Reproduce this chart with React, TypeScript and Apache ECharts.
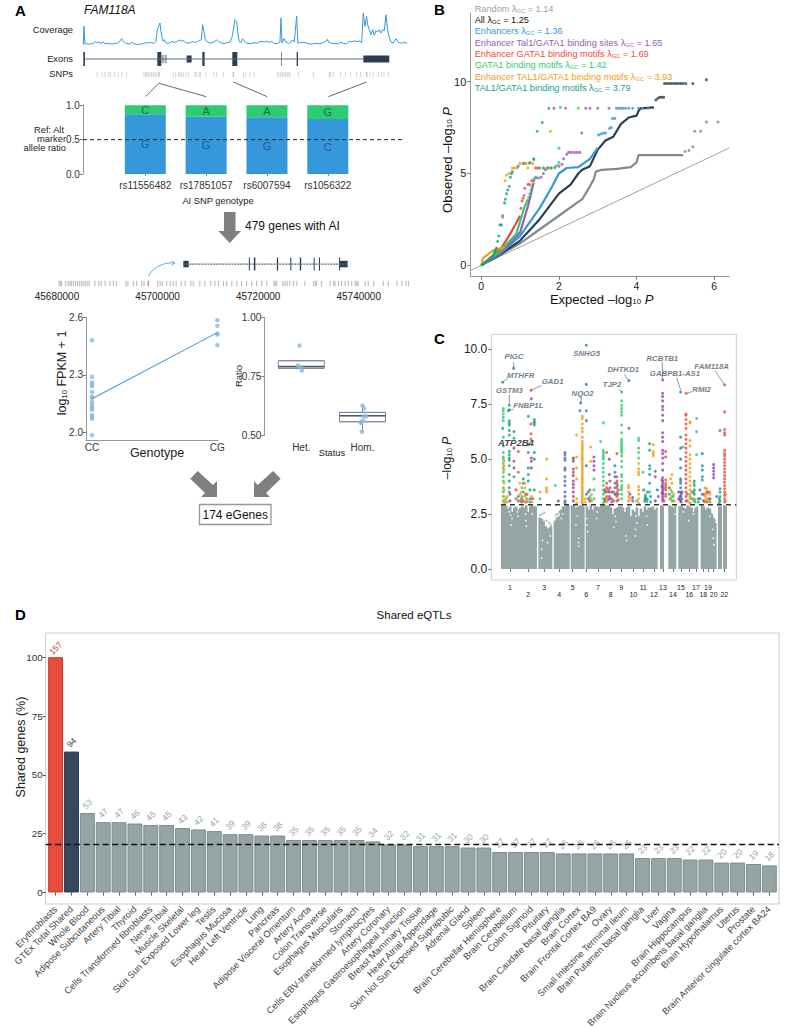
import React, { useEffect, useRef } from "react";
import * as echarts from "echarts";

const FONT = "'Liberation Sans', Arial, sans-serif";

// ---- Panel A data ----
const coverage = [[10,0],[12,55],[15,3],[25,2],[40,3],[46,10],[50,5],[56,9],[60,4],[70,7],[76,3],[85,4],[95,2],[110,4],[118,8],[125,18],[130,10],[136,5],[145,2],[150,3],[156,8],[160,3],[170,1],[185,2],[198,6],[205,5],[212,7],[222,4],[228,10],[232,45],[236,55],[240,65],[243,40],[247,18],[250,10],[253,15],[258,6],[264,4],[270,6],[276,10],[283,7],[290,9],[298,14],[305,11],[312,12],[318,6],[325,4],[335,8],[340,10],[346,6],[352,9],[358,12],[364,15],[368,60],[372,40],[376,15],[381,9],[388,6],[395,5],[403,9],[410,14],[416,9],[424,5],[432,3],[440,6],[450,8],[457,25],[461,50],[465,75],[470,70],[473,40],[477,12],[482,5],[488,18],[493,10],[500,5],[512,3],[522,6],[530,4],[538,9],[546,10],[553,8],[560,11],[568,7],[576,9],[583,4],[592,3],[600,8],[603,80],[606,5],[612,18],[618,8],[625,4],[632,7],[637,14],[643,8],[650,85],[654,5],[662,6],[672,7],[684,3],[695,2],[708,4],[718,3],[730,6],[738,10],[742,16],[747,7],[755,4],[765,3],[775,3],[783,7],[790,4],[800,3],[808,10],[815,8],[822,12],[830,9],[838,11],[845,6],[850,95],[855,55],[860,85],[863,60],[868,45],[873,30],[878,45],[883,28],[888,42],[893,38],[898,45],[903,35],[908,45],[913,42],[918,90],[922,50],[927,25],[933,8],[940,5],[948,18],[955,8],[965,4],[972,8],[982,4]];
const exons1 = [[10,15,1],[232,244,1],[245,248,.6],[250,253,.6],[256,260,.6],[320,335,.5],[367,374,1],[457,472,1],[603,605,1],[650,654,1],[850,928,.5]];
const exons1Shade = [0,0,1,1,1,0,0,0,1,0,0];
const snps1 = [52,66,75,85,92,103,115,126,140,192,197,200,205,210,215,220,225,230,280,287,295,300,305,310,318,325,345,350,358,362,378,402,410,430,490,497,510,523,592,597,602,607,612,617,622,627,630,655,700,748,752,760,782,796,812,830,842,870,880,895,905,912,925];
const snps1Red = [237,460,860];
const alleleNames = ["rs11556482","rs17851057","rs6007594","rs1056322"];
const refRatio = [0.87,0.835,0.825,0.8];
const altRatio = [0.13,0.165,0.175,0.2];
const refAllele = ["G","G","G","C"];
const altAllele = ["C","A","A","G"];
const exons2 = [[45705130,45706190,.5],[45718150,45718350,1],[45719150,45719450,1],[45723720,45723980,1],[45726400,45726600,1],[45728280,45728560,1],[45731040,45731200,1],[45732100,45732260,1],[45736100,45736200,1],[45736200,45737800,.5]];
const geneSpan2 = [45705130,45737800];
const snps2Kb = [.4,.66,.9,1.7,2.2,2.6,2.85,3.25,3.65,4.05,4.45,4.85,5.2,5.6,6,6.4,7.55,8.3,8.8,9.55,10.55,11.2,11.8,13.7,14.1,15.2,15.85,16.85,17.3,20,20.5,20.95,21.8,22.5,23.1,23.7,24.7,25.5,26.6,27.1,28.4,29.4,30.55,31.4,32.1,33.1,33.75,34.75,35.75,36.7,37.7,38.7,39.7,40.7,41.7,43.15,43.4,43.7,44.9,45.35,45.8,46.3,47,47.7,49.3,51,51.4,51.6,52.6,54.3,55,55.3,56,56.6,57.3,57.9,58.6,59.3,59.6,59.9,61.3,61.9,63,64.9,65.9,67.6,68.6,69.4,69.9];
const snps2RedKb = [18.15];
const genomeTicks = [45680000,45700000,45720000,45740000];
const ccExpr = [2.48,2.29,2.26,2.25,2.24,2.21,2.186,2.18,2.16,2.15,2.134,2.125,2.117,2.09,2.08,2.07,1.985];
const cgExpr = [2.585,2.555,2.515,2.51,2.455];
const exprFit = [[0,2.175],[1,2.52]];
const statusNames = ["Het.","Hom."];
const ratioBoxes = [[0.784,0.784,0.791,0.816,0.816],[0.515,0.5575,0.583,0.597,0.626]];
const ratioPoints = [[-0.03,0.88],[-0.05,0.796],[-0.01,0.787],[0.01,0.774],[1.0,0.626],[1.03,0.614],[1.02,0.581],[1.06,0.581],[0.98,0.5575],[0.97,0.553],[1.01,0.562],[0.99,0.515]];

// ---- Panel B data ----
const qqDiagonal = [[-0.283,-0.283],[6.39,6.39]];
const qqRandom = [[0,0],[.5,.6],[1,1.2],[1.5,1.95],[2,2.7],[2.4,3.3],[2.6,3.6],[2.8,4.3],[2.9,4.7],[2.95,5.1],[3.1,5.2],[3.5,5.25],[3.85,5.35],[4,5.6],[4.05,6],[5.2,6]];
const qqRandomDots = [[5.25,6.2],[5.35,6.25],[5.45,6.45],[5.5,7.3],[5.65,7.3],[5.8,7.8],[6.1,7.8]];
const qqAll = [[0,0],[.5,.6],[1,1.35],[1.5,2.5],[2,3.9],[2.3,4.4],[2.5,5],[2.6,5.2],[2.8,5.4],[3,6.3],[3.2,6.8],[3.4,7],[3.6,7.7],[3.8,8.05],[4,8.15],[4.05,8.4],[4.1,8.55],[4.45,8.6]];
const qqAllDots = [[4.5,9],[4.55,9.1],[4.6,9.15],[4.65,9.15],[4.7,9.15],[4.72,9.9],[4.78,9.9],[4.84,9.9],[4.9,9.9],[4.96,9.9],[5.02,9.9],[5.08,9.9],[5.14,9.9],[5.2,9.9],[5.27,9.9],[5.45,9.9],[5.8,10.1]];
const qqEnh = [[0,0],[.5,.65],[1,1.6],[1.5,3.1],[1.8,4.2],[2,5],[2.2,5.3],[2.5,5.35],[2.8,5.8],[3,6.4]];
const qqEnhDots = [[3.02,7.1],[3.08,7.15],[3.14,7.2],[3.2,7.2],[3.3,7.45],[3.35,7.5],[3.38,8],[3.44,8],[3.48,8.55],[3.54,8.55],[3.6,8.55],[3.66,8.55],[3.72,8.55],[3.8,8.55],[3.9,8.55],[4.05,8.55],[4.15,8.55],[4.3,8.55]];
const qqTal = [[0,0],[.5,.7],[1,1.8],[1.2,3.2],[1.35,4.5]];
const qqTalDots = [[1.4,4.75],[1.47,4.75],[1.54,4.8],[1.6,5],[1.65,5.2],[1.72,5.3],[1.8,5.3],[1.9,5.35],[2,5.4],[2.08,5.5],[2.12,5.8],[2.2,6.05],[2.25,6.15],[2.32,6.15],[2.4,6.15],[2.47,6.15],[2.54,6.15],[2.59,7.2],[2.69,8.55],[2.8,8.55],[3,8.55],[3.29,8.55]];
const qqGataEnh = [[0,0],[.5,.9],[.7,1.55],[.9,2.3],[1,2.7]];
const qqGataEnhDots = [[1.02,3.1],[1.05,3.5],[1.08,3.65],[1.1,3.8],[1.12,4.2],[1.2,4.4],[1.25,4.4],[1.3,4.6],[1.35,4.6],[1.4,5.3],[1.45,5.3],[1.5,5.3],[1.6,5.3],[1.7,5.3],[1.8,5.3],[1.87,8.55],[2.17,8.55]];
const qqGata = [[0,0],[.5,.8],[.9,1.7],[1.1,3.1],[1.2,3.6]];
const qqGataDots = [[1.22,3.7],[1.25,3.9],[1.28,4.1],[1.3,4.3],[1.35,4.7],[1.4,4.8],[1.5,5.3],[1.6,5.3],[1.7,5.3],[1.8,5.3],[1.9,5.3],[1.95,5.45],[2,5.6],[2,6.38],[2.04,8.6],[2.5,8.55],[1.35,5.75]];
const qqMotifEnh = [[0,0],[.05,.4],[.3,.8],[.6,1]];
const qqMotifEnhDots = [[.55,2.6],[.62,4.6],[.65,4.9],[.72,5],[.8,5.3],[.86,5.3],[.92,5.3],[1,5.55],[1.08,5.55],[1.16,5.55],[1.24,5.55],[1.32,5.55],[1.2,5.3],[1.78,7.3]];
const qqMotif = [[0,0],[.3,.5],[.4,1]];
const qqMotifDots = [[.42,1.3],[.45,1.6],[.48,2.2],[.52,2.2],[.55,2.7],[.6,3.4],[.62,3.6],[.65,3.9],[.68,4.1],[.72,4.3],[.75,4.8],[.78,5],[.8,5.1],[.95,5.4],[1.1,5.55],[1.25,5.6],[1.35,5.8],[1.44,7.3],[1.57,7.78],[1.74,8.55]];
const qqLegend = [
  ["Random ", "1.14", "#95a5a6"],["All ", "1.25", "#111111"],["Enhancers ", "1.36", "#3498db"],
  ["Enhancer Tal1/GATA1 binding sites ", "1.65", "#9b59b6"],["Enhancer GATA1 binding motifs ", "1.69", "#e74c3c"],
  ["GATA1 binding motifs ", "1.42", "#2ecc71"],["Enhancer TAL1/GATA1 binding motifs ", "3.93", "#f39c12"],
  ["TAL1/GATA1 binding motifs ", "3.79", "#16a085"],
];

// ---- Panel C data ----
const graySegments = [
  [36,[2.9,2.9,2.88,2.75,2.85,2.6,2.8,2.85,2.7,2.8,2.85,2.8,2.9,2.6,2.85,2.9,2.85,2.85]],
  [148,[2.35,2.3,2.2,1.95,1.85,1.9,1.95]],
  [194,[2.2,2.35,2.4,2.7,2.85,2.85,2.9,2.9]],
  [245,[2.9,2.9,2.8,2.85,2.9,2.9,2.85]],
  [290,[2.85,2.7,2.9,2.7,2.85,2.85,2.8,2.9,2.9,2.9,2.9,2.9,2.8,2.5,2.75,2.8,2.85,2.85,2.8,2.6,2.8,2.85,2.4,2.7,2.6,2.8,2.4,2.75,2.6,2.85,2.7,2.8,2.8,2.85,2.7,2.8]],
  [513,[2.9,2.85]],
  [538,[2.9,2.85,2.8,2.9]],
  [568,[2.85,2.9,2.8,2.75,2.9,2.85,2.8,2.6,2.8,2.85]],
  [635,[2.9,2.85,2.7,2.8,2.75,2.5,2.3,2.1]],
  [687,[2.85,2.85]],
  [702,[2.9,2.85]],
];
const grayFringe = [[150,2.45],[156,2.5],[163,2.56],[170,2.2],[178,2.1],[183,2],[197,2.45],[203,2.5],[208,2.6],[660,2.6],[665,2.5],[670,2.3],[675,2.2]];
const grayHoles = [[58,2.6],[62,2.45],[66,2.3],[63,2],[82,2.6],[84,2.4],[107,2.5],[108,2.2],[109,1.95],[127,2.5],[214,2.3],[218,2.5],[266,1.4],[266,1.2],[266,1.05],[262,2.4],[258,2],[290,2.3],[291,2],[293,1.7],[322,2.6],[320,2.3],[376,2.4],[378,2.15],[372,1.9],[408,1.5],[410,1.3],[438,2.4],[440,2.1],[437,1.8],[436,1.5],[470,2.4],[472,2],[555,2.5],[580,2.6],[596,2.2],[610,2.5],[660,2.4],[668,1.8],[670,1.4],[672,1.1],[155,.9],[158,1.3],[155,.5],[173,1.2],[180,1.5]];
const chrTicks = [60,115,163,208,248,289,324,362,394,430,460,492,519,549,573,598,618,640,654,671,685,703];
const chrNames = ["1","2","3","4","5","6","7","8","9","10","11","12","13","14","15","16","17","18","19","20","21","22"];
const hitPalette = { green:"#2ecc71", teal:"#16a085", blue:"#2980b9", indigo:"#4a69bd", purple:"#8e44ad", orange:"#f39c12", red:"#e74c3c", plum:"#a8417f" };
const hitsGreen = [[40,[7.3,7.2,7.05,6.9,6.75,6,5.6,5.3,5.1,5,4.8,4.6,4.4,4.2,4,3.7,3.5,3.3,3.1]],[196,[3.8]],[250,[5]],[332,[5.8]],[340,[6.65,5.4,5.3,5.2,5.1,5,4.8,4.6,4.4,4.2,4,3.8,3.6,3.4,3.2,3]],[395,[8.05,7.65,7.45,7.3,7.15,7,6.55,6.2,5.9,5.8,5.7,5.6,5.5,5.4,5.3,5.15,4.9,4.65,4.3,4.2,4,3.8,3.7,3.6,3.4,3.2]],[446,[5.95,5.85,5.5,5.3,5.05]],[459,[4.4]],[479,[3.5]],[546,[3.5,3.3,3.1]],[579,[5.55]],[620,[6.85,6.25,5.2]],[612,[3.9,3.5,3.1]],[96,[3.7,3.3]],[312,[4.1,3.6,3.2]],[48,[3.2,3.05]],[110,[3.4,3.2]],[150,[3.2]],[300,[3.3,3.1]],[345,[3.1]],[385,[3.4]],[440,[3.1]],[470,[3.2,3.05]],[550,[3.3,3.1]],[600,[3,3.3]],[615,[3.15,3.05]],[640,[3.1]],[660,[3.05]]];
const hitsTeal = [[38,[8.5,6.4]],[55,[7.2]],[58,[7.45,7.25,6.74,6.63,6.55,6.3,6.1,5.35,5.2,5.05,4.95,4.7,4.3,4,3.7,3.5]],[72,[6.25,5.95,4.2]],[100,[4.1,3.9,3.5,3.1]],[115,[6.95,5.65,5.3,4.6,4.3,4]],[133,[6.8,6.7,6.65,6.55,5.3,5,3.6]],[466,[3.35,3.2]],[479,[5.7,5.4,4.7,4.55,4.3,3.9]],[538,[3.7,3.4]],[613,[4,3.8,3.6,3.4]],[690,[6.3,3.65,3.5,3.3,3.1]],[660,[3.2]],[85,[3.3,3.1]],[120,[3.6,3.2,3.05]],[300,[3.6,3.1]],[345,[3.5,3.2]],[464,[3.1]],[472,[3.5,3.15]],[482,[3.3,3.05]],[540,[3.2]],[606,[3.5,3.2]],[625,[3.2,3.05]],[688,[3,3.2]]];
const hitsBlue = [[71,[9.13]],[272,[7.55]],[270,[7.2]],[289,[10.18,8.4,7.2,6.75,4.7,3.4]],[417,[8.57,6.4]],[461,[3.6]],[502,[3.6]],[572,[8.05,6,5.5,5,4.6,4.1,4,3.9,3.7,3.5,3.3,3.1]],[637,[5.25,4.7,4.5,4.2,4.05,3.4]],[375,[4.7,4.4,4.2,3.9,3.7,3.4]],[370,[3.5,3.1]],[382,[3.8,3.4]],[466,[3.25]],[576,[3.5,3.2]],[630,[3.6,3.2]]];
const hitsIndigo = [[225,[5.3,5.2,5.05,4.95,4.6,4.5,4.2,4,3.8,3.5,3.3,3.1,3]],[295,[3.5,3.2]],[680,[3.3]]];
const hitsPurple = [[72,[5.5,4.9,4.6]],[124,[7.75,5.05,4.9,4.6]],[312,[5.1,4.9,4.7,4.5]],[358,[5,4.3,3.5,3.3]],[428,[3.25,3.1]],[496,[4.45,4.2,3.1]],[518,[8.6,8,7.85,7.65,7.4,7.25,7,6.75,6.2,6,5.8,5.4,5.25,5.05,4.8,4.5,4.15,4,3.9,3.8,3.7,3.6,3.5,3.4,3.3,3.2,3.1]],[516,[4.05,3.75,3.45]],[671,[4.75,4.6,4.45,4.3,4.15]],[570,[3.3,3.15]],[60,[3.4,3.1]],[128,[3.2]],[355,[3.6,3.15]],[420,[3.4]],[505,[3.3]],[566,[3.5,3.2]],[574,[3.4,3.05]]];
const hitsOrange = [[42,[4.9,4.7,4.5,3.9,3.6,3.3,3.1,3]],[105,[3.9,3.7,3.3]],[150,[3.5]],[170,[5,4.1,3.7,3.6,3.5]],[260,[6.1,5.1,4.6,4.1,3.2,3]],[277,[6.95,6.85,6.6,6.4,6.25,6,5.8,5.7,5.6,5.5,5.4,5.3,5.2,5.1,5,4.9,4.8,4.7,4.6,4.5,4.4,4.3,4.2,4.1,4,3.9,3.8,3.7,3.6,3.5,3.4,3.3,3.2,3.1,3]],[302,[5.55,4.9,3.2]],[416,[3.8,3.7,3.5,3.3,3.1]],[446,[4.8,4.55,4.4,4.3,3.75,3.6,3.4,3.2,3]],[490,[5.65,5.35,5.25,5.15]],[546,[4.3,3.9]],[600,[6.7,6.65,5.85,5.6,5.2,5,4.8,4.6,4.4,4.2,4,3.8,3.6,3.4,3.2,3]],[650,[3.65,3.5,3.4,3.2,3.1]],[94,[3.5,3.1]],[707,[3.4,3.1]],[52,[3.3,3.05]],[90,[3.9,3.4,3.1]],[112,[3.4,3.1]],[125,[3.3,3.05]],[286,[3.2,3.05]],[305,[3.4,3.1]],[350,[3.2,3.05]],[420,[3.2]],[542,[4.1,3.6,3.2]],[552,[3.4,3.1]],[612,[3.2]],[645,[3.7,3.3,3.05]],[660,[3.4,3.15]]];
const hitsRed = [[85,[5.35,4.4]],[123,[8.13,6.6,6.15,5.9]],[350,[5.3,3.9,3.7,3.5,3.3]],[381,[5.25,4.2,4,3.9,3.7,3.5,3.3,3.1]],[527,[5.35,5.1,4.05,3.9,3.8,3.7,3.6,3.4,3.3]],[588,[8,7.05,7,6.8,6.6,6.4,6.1,5.9,5.7,5.5,5.3,5.1,4.9,4.7,4.5,4.3,4.1,3.9,3.7,3.5,3.3,3.1]],[658,[3.5,3.2]],[704,[8.37,7.15,6.35,6.2,6.1,5.4,5.25,5.15,5,4.85,4.7,4.55,4.4,4.25,4.1,3.95,3.8,3.65,3.5,3.35,3.2,3.05]],[78,[3.6,3.2]],[95,[3.2,3.05]],[108,[3.4,3.05]],[345,[3.6,3.1]],[365,[3.5,3.2,3.05]],[376,[3.4]],[385,[3.6,3.15]],[522,[3.1]],[592,[3.4,3.1]],[642,[3.4,3.1]],[652,[3.5,3.05]]];
const hitsPlum = [[205,[3.1]],[250,[5.05,4.9,4.55,4.4,4.25,4,3.85,3.7,3.5,3.3,3.1]],[360,[4,3.7,3.2]]];
const hitGroups = [["green",hitsGreen],["teal",hitsTeal],["blue",hitsBlue],["indigo",hitsIndigo],["purple",hitsPurple],["orange",hitsOrange],["red",hitsRed],["plum",hitsPlum]];
const eqtlThreshold = 2.92;
const geneLabels = [["PIGC",72,9.65],["MTHFR",92,8.82],["GAD1",188,8.53],["GSTM3",58,8.12],["FNBP1L",115,7.44],["SNHG5",290,9.82],["NQO2",278,7.97],["TJP2",366,8.39],["DHTKD1",400,9.06],["RCBTB1",517,9.58],["GABPB1-AS1",555,8.89],["RMI2",635,8.16],["FAM118A",665,9.21]];
const geneLeaders = [[71,9.42,71,9.13],[55,8.68,38,8.5],[155,8.35,123,8.13],[58,7.92,58,7.45],[70,7.27,55,7.2],[275,7.78,272,7.55],[385,8.2,397,8.04],[403,8.86,417,8.57],[517,9.4,517,8.6],[560,8.72,572,8.14],[605,8.07,590,7.98],[675,9.03,704,8.37]];
const mainHit = ["ATP2B4",78,5.75];

// ---- Panel D data ----
const tissues = ["Erythroblasts","GTEx Total Shared","Whole Blood","Adipose Subcutaneous","Artery Tibial","Thyroid","Cells Transformed fibroblasts","Nerve Tibial","Muscle Skeletal","Skin Sun Exposed Lower leg","Testis","Esophagus Mucosa","Heart Left Ventricle","Lung","Pancreas","Adipose Visceral Omentum","Artery Aorta","Colon Transverse","Esophagus Muscularis","Stomach","Cells EBV-transformed lymphocytes","Artery Coronary","Esophagus Gastroesophageal Junction","Breast Mammary Tissue","Heart Atrial Appendage","Skin Not Sun Exposed Suprapubic","Adrenal Gland","Spleen","Brain Cerebellar Hemisphere","Brain Cerebellum","Colon Sigmoid","Pituitary","Brain Caudate basal ganglia","Brain Cortex","Brain Frontal Cortex BA9","Ovary","Small Intestine Terminal Ileum","Brain Putamen basal ganglia","Liver","Vagina","Brain Hippocampus","Brain Nucleus accumbens basal ganglia","Brain Hypothalamus","Uterus","Prostate","Brain Anterior cingulate cortex BA24"];
const sharedCounts = [157,94,53,47,47,46,45,45,43,42,41,39,39,38,38,35,35,35,35,35,34,32,32,31,31,31,30,30,27,27,27,27,26,26,26,26,26,23,23,23,22,22,20,20,19,18];
const sharedPct = [100,59.9,33.8,29.9,29.9,29.3,28.7,28.7,27.4,26.8,26.1,24.8,24.8,24.2,24.2,22.3,22.3,22.3,22.3,22.3,21.7,20.4,20.4,19.7,19.7,19.7,19.1,19.1,17.2,17.2,17.2,17.2,16.6,16.6,16.6,16.6,16.6,14.6,14.6,14.6,14,14,12.7,12.7,12.1,11.5];
const sharedThreshold = 20.5;

const BLUE = "#3498db";
const DARK = "#2c3e50";

function buildOption() {
  const grid: any[] = [], xAxis: any[] = [], yAxis: any[] = [], series: any[] = [];
  const panel = (g: any, x: any, y: any) => {
    const i = grid.length;
    grid.push(g);
    xAxis.push({ gridIndex: i, ...x });
    yAxis.push({ gridIndex: i, ...y });
    return i;
  };
  const hiddenVal = (min: number, max: number) => ({ type: "value", show: false, min, max, splitLine: { show: false } });
  const axisGray = { lineStyle: { color: "#999", width: 1 } };
  const tickGray = { length: 3, lineStyle: { color: "#777", width: 1 } };

  const rectItem = (colors: (i: number) => string) => (params: any, api: any) => {
    const a = api.coord([api.value(0), api.value(2)]);
    const b = api.coord([api.value(1), api.value(3)]);
    return { type: "rect", shape: { x: a[0], y: b[1], width: Math.max(b[0] - a[0], 1), height: a[1] - b[1] }, style: { fill: colors(params.dataIndex) } };
  };

  // ---- A: coverage
  const pCov = panel({ left: 83.3, top: 11.3, width: 324, height: 33.4 }, hiddenVal(10, 982), hiddenVal(0, 100));
  series.push({ type: "line", xAxisIndex: pCov, yAxisIndex: pCov, data: coverage, symbol: "none", lineStyle: { color: BLUE, width: 1 } });

  // ---- A: exons
  const pEx = panel({ left: 83.3, top: 52, width: 324, height: 14 }, hiddenVal(10, 982), hiddenVal(0, 1));
  series.push({ type: "line", xAxisIndex: pEx, yAxisIndex: pEx, data: [[12, .5], [850, .5]], symbol: "none", lineStyle: { color: "#5d6d7e", width: 1 } });
  series.push({
    type: "custom", xAxisIndex: pEx, yAxisIndex: pEx, encode: { x: [0, 1], y: [2, 3] },
    data: exons1.map(([s, e, h]) => [s, e, .5 - h / 2, .5 + h / 2]),
    renderItem: rectItem((i) => (exons1Shade[i] ? "#7f8c8d" : DARK)),
  });

  // ---- A: SNP row 1
  const pSnp = panel({ left: 83.3, top: 72, width: 324, height: 5 }, hiddenVal(10, 982), hiddenVal(0, 1));
  series.push({ type: "scatter", xAxisIndex: pSnp, yAxisIndex: pSnp, data: snps1.map((x) => [x, .5]), symbol: "rect", symbolSize: [1, 5], itemStyle: { color: "#c4c9cc" } });
  series.push({ type: "scatter", xAxisIndex: pSnp, yAxisIndex: pSnp, data: snps1Red.map((x) => [x, .5]), symbol: "rect", symbolSize: [1.2, 5], itemStyle: { color: "#e58a80" } });

  // ---- A: allele ratio bars
  const pBar = panel(
    { left: 114.9, top: 105.3, width: 243.3, height: 68.7 },
    { type: "category", data: alleleNames, axisLine: { show: false }, axisTick: { show: true, alignWithLabel: true, length: 2, lineStyle: { color: "#888" } }, axisLabel: { interval: 0, fontSize: 10, color: "#333", margin: 6, fontFamily: FONT } },
    { type: "value", min: 0, max: 1, interval: .5, offset: 32, splitLine: { show: false }, axisLine: { show: true, ...axisGray }, axisTick: { show: true, ...tickGray }, axisLabel: { fontSize: 10, color: "#333", margin: 3, fontFamily: FONT, formatter: (v: number) => v.toFixed(1) } },
  );
  series.push({ type: "bar", xAxisIndex: pBar, yAxisIndex: pBar, stack: "ai", barWidth: 41, data: refRatio, itemStyle: { color: BLUE }, label: { show: true, position: "inside", fontSize: 11, color: "#2a5a85", fontFamily: FONT, formatter: (p: any) => refAllele[p.dataIndex] } });
  series.push({ type: "bar", xAxisIndex: pBar, yAxisIndex: pBar, stack: "ai", barWidth: 41, data: altRatio, itemStyle: { color: "#2ecc71" }, label: { show: true, position: "inside", fontSize: 11, color: "#1e6a55", fontFamily: FONT, formatter: (p: any) => altAllele[p.dataIndex] } });
  const pDash = panel({ left: 83, top: 105.3, width: 322, height: 68.7 }, hiddenVal(0, 1), hiddenVal(0, 1));
  series.push({ type: "line", xAxisIndex: pDash, yAxisIndex: pDash, data: [[0, .5], [1, .5]], symbol: "none", z: 5, lineStyle: { color: "#222", width: 1, type: [4, 3] } });

  // ---- A: second gene model with SNP row
  const pGene = panel(
    { left: 57, top: 256, width: 352, height: 31 },
    { type: "value", min: 45680000, max: 45750000, splitLine: { show: false }, axisLine: { show: false }, axisTick: { show: false }, axisLabel: { customValues: genomeTicks, fontSize: 10, color: "#222", margin: 4, fontFamily: FONT, showMinLabel: true, showMaxLabel: true, formatter: (v: number) => String(v) } },
    hiddenVal(0, 1),
  );
  series.push({ type: "line", xAxisIndex: pGene, yAxisIndex: pGene, data: geneSpan2.map((x) => [x, .74]), symbol: "none", lineStyle: { color: "#566573", width: 1.2, type: [2, 1] } });
  series.push({
    type: "custom", xAxisIndex: pGene, yAxisIndex: pGene, encode: { x: [0, 1], y: [2, 3] },
    data: exons2.map(([s, e, h]) => [s, e, .74 - h * .21, .74 + h * .21]),
    renderItem: rectItem(() => DARK),
  });
  series.push({ type: "scatter", xAxisIndex: pGene, yAxisIndex: pGene, data: snps2Kb.map((k) => [45680000 + k * 1000, .11]), symbol: "rect", symbolSize: [1.2, 5.5], itemStyle: { color: "#aab1b8" } });
  series.push({ type: "scatter", xAxisIndex: pGene, yAxisIndex: pGene, data: snps2RedKb.map((k) => [45680000 + k * 1000, .11]), symbol: "rect", symbolSize: [1.4, 5.5], itemStyle: { color: "#c0605a" } });

  // ---- A: expression scatter
  const pExpr = panel(
    { left: 86, top: 317.3, width: 132, height: 123.4 },
    { type: "value", min: -0.048, max: 1.005, splitLine: { show: false }, axisLine: { show: true, onZero: false, ...axisGray }, axisTick: { show: false }, axisLabel: { customValues: [0, 1], fontSize: 10, color: "#333", margin: 2, fontFamily: FONT, formatter: (v: number) => (v < .5 ? "CC" : "CG"), showMinLabel: true, showMaxLabel: true } },
    { type: "value", min: 1.956, max: 2.6, splitLine: { show: false }, axisLine: { show: true, onZero: false, ...axisGray }, axisTick: { show: true, customValues: [2, 2.3, 2.6], length: 3, lineStyle: { color: "#777" } }, axisLabel: { customValues: [2, 2.3, 2.6], fontSize: 10, color: "#333", margin: 3, fontFamily: FONT, showMinLabel: true, showMaxLabel: true, formatter: (v: number) => v.toFixed(1) } },
  );
  series.push({ type: "line", xAxisIndex: pExpr, yAxisIndex: pExpr, data: exprFit, symbol: "none", lineStyle: { color: "#4a9bd4", width: 1.1 } });
  series.push({ type: "scatter", xAxisIndex: pExpr, yAxisIndex: pExpr, data: [...ccExpr.map((v) => [0, v]), ...cgExpr.map((v) => [1, v])], symbolSize: 4.5, itemStyle: { color: "#85bbe0" } });

  // ---- A: ratio box plot
  const boxGrid = { left: 270.7, top: 317.3, width: 122.4, height: 118 };
  const pBox = panel(
    boxGrid,
    { type: "category", data: statusNames, axisLine: { show: false }, axisTick: { show: false }, axisLabel: { fontSize: 10, color: "#333", margin: 7, fontFamily: FONT } },
    { type: "value", min: .5, max: 1, interval: .25, offset: 6.4, splitLine: { show: false }, axisLine: { show: true, ...axisGray }, axisTick: { show: true, ...tickGray }, axisLabel: { fontSize: 10, color: "#333", margin: 3, fontFamily: FONT, formatter: (v: number) => v.toFixed(2) } },
  );
  series.push({ type: "boxplot", xAxisIndex: pBox, yAxisIndex: pBox, data: ratioBoxes.map(([, q1, m, q3]) => [q1, q1, m, q3, q3]), boxWidth: [46, 46], itemStyle: { color: "#fff", borderColor: "#7b8a99", borderWidth: 1 } });
  const pBoxPts = panel(boxGrid, hiddenVal(-.5, 1.5), hiddenVal(.5, 1));
  ratioBoxes.forEach(([lo, q1, m, q3, hi], i) => {
    series.push({ type: "line", xAxisIndex: pBoxPts, yAxisIndex: pBoxPts, data: [[i, lo], [i, q1]], symbol: "none", z: 3, lineStyle: { color: "#7b8a99", width: 1 } });
    series.push({ type: "line", xAxisIndex: pBoxPts, yAxisIndex: pBoxPts, data: [[i, q3], [i, hi]], symbol: "none", z: 3, lineStyle: { color: "#7b8a99", width: 1 } });
    series.push({ type: "line", xAxisIndex: pBoxPts, yAxisIndex: pBoxPts, data: [[i - .376, m], [i + .376, m]], symbol: "none", z: 3, lineStyle: { color: "#4a5a6a", width: 1.5 } });
  });
  series.push({ type: "scatter", xAxisIndex: pBoxPts, yAxisIndex: pBoxPts, data: ratioPoints, symbolSize: 4.5, z: 4, itemStyle: { color: "#85bbe0" } });

  // ---- B: QQ plot
  const pQQ = panel(
    { left: 470.3, top: 13, width: 259, height: 263.7 },
    { type: "value", min: -0.283, max: 6.39, splitLine: { show: false }, axisLine: { show: true, onZero: false, ...axisGray }, axisTick: { show: true, customValues: [0, 2, 4, 6], ...tickGray }, axisLabel: { customValues: [0, 2, 4, 6], fontSize: 10.5, color: "#222", margin: 4, fontFamily: FONT } },
    { type: "value", min: -0.62, max: 13.74, splitLine: { show: false }, axisLine: { show: true, onZero: false, ...axisGray }, axisTick: { show: true, customValues: [0, 5, 10], ...tickGray }, axisLabel: { customValues: [0, 5, 10], fontSize: 11, color: "#222", margin: 4, fontFamily: FONT } },
  );
  series.push({ type: "line", xAxisIndex: pQQ, yAxisIndex: pQQ, data: qqDiagonal, symbol: "none", lineStyle: { color: "#888", width: .8 } });
  const qq: [any, any, string][] = [
    [qqRandom, qqRandomDots, "#7f8c8d"], [qqAll, qqAllDots, DARK], [qqEnh, qqEnhDots, "#3498db"], [qqTal, qqTalDots, "#9b59b6"],
    [qqGataEnh, qqGataEnhDots, "#e74c3c"], [qqGata, qqGataDots, "#2ecc71"], [qqMotifEnh, qqMotifEnhDots, "#f39c12"], [qqMotif, qqMotifDots, "#16a085"],
  ];
  qq.forEach(([ln, dots, color], k) => {
    series.push({ type: "line", xAxisIndex: pQQ, yAxisIndex: pQQ, data: ln, symbol: "none", z: 3 + k * .1, lineStyle: { color, width: 2.2 } });
    series.push({ type: "scatter", xAxisIndex: pQQ, yAxisIndex: pQQ, data: dots, symbolSize: 3, z: 3 + k * .1, itemStyle: { color } });
  });

  // ---- C: Manhattan
  const pMan = panel(
    { show: true, left: 491.3, top: 334.3, width: 245, height: 245.7, borderColor: "#ccc", borderWidth: 1 },
    { type: "value", min: 4, max: 739, splitLine: { show: false }, axisLine: { show: false }, axisTick: { show: true, customValues: chrTicks, length: 3, lineStyle: { color: "#777" } }, axisLabel: { customValues: chrTicks, interval: 0, fontSize: 7, lineHeight: 7, color: "#222", margin: 4, fontFamily: FONT, hideOverlap: false, showMinLabel: true, showMaxLabel: true, formatter: (v: number) => { const i = chrTicks.indexOf(v); return i % 2 ? "\n" + chrNames[i] : chrNames[i]; } } },
    { type: "value", min: -0.5, max: 10.68, splitLine: { show: false }, axisLine: { show: false }, axisTick: { show: true, customValues: [0, 2.5, 5, 7.5, 10], length: 3, lineStyle: { color: "#777" } }, axisLabel: { customValues: [0, 2.5, 5, 7.5, 10], fontSize: 12, color: "#222", margin: 4, fontFamily: FONT, formatter: (v: number) => v.toFixed(1) } },
  );
  const grayBars: number[][] = [];
  graySegments.forEach(([start, hs]: any) => hs.forEach((h: number, i: number) => grayBars.push([start + i * 6, h, i < hs.length - 1 ? 1 : 0])));
  series.push({
    type: "custom", xAxisIndex: pMan, yAxisIndex: pMan, encode: { x: 0, y: 1 }, z: 1, data: grayBars,
    renderItem: (_: any, api: any) => {
      const a = api.coord([api.value(0) - 3, 0]), b = api.coord([api.value(0) + 3 + api.value(2) * 1.8, api.value(1)]);
      return { type: "rect", shape: { x: a[0], y: b[1], width: b[0] - a[0], height: a[1] - b[1] }, style: { fill: "#95a5a6" } };
    },
  });
  series.push({ type: "scatter", xAxisIndex: pMan, yAxisIndex: pMan, data: grayFringe, symbolSize: 2.2, z: 2, itemStyle: { color: "#95a5a6" } });
  series.push({ type: "scatter", xAxisIndex: pMan, yAxisIndex: pMan, data: grayHoles, symbolSize: 1.8, z: 2, itemStyle: { color: "#fff" } });
  hitGroups.forEach(([name, cols]: any) => {
    const pts: number[][] = [];
    cols.forEach(([x, vs]: any) => vs.forEach((v: number) => pts.push([x, v])));
    series.push({ type: "scatter", xAxisIndex: pMan, yAxisIndex: pMan, data: pts, symbolSize: 3, z: 3, itemStyle: { color: (hitPalette as any)[name] } });
  });
  series.push({ type: "line", xAxisIndex: pMan, yAxisIndex: pMan, data: [[33, eqtlThreshold], [739, eqtlThreshold]], symbol: "none", z: 5, lineStyle: { color: "#333", width: 1.5, type: [5, 4] } });
  series.push({
    type: "custom", xAxisIndex: pMan, yAxisIndex: pMan, encode: { x: [0, 2], y: [1, 3] }, z: 4, data: geneLeaders,
    renderItem: (_: any, api: any) => {
      const a = api.coord([api.value(0), api.value(1)]), b = api.coord([api.value(2), api.value(3)]);
      return { type: "line", shape: { x1: a[0], y1: a[1], x2: b[0], y2: b[1] }, style: { stroke: "#5d6d7e", lineWidth: .7 } };
    },
  });
  series.push({
    type: "scatter", xAxisIndex: pMan, yAxisIndex: pMan, symbolSize: 0, z: 6,
    data: geneLabels.map(([n, x, v]) => ({ name: n, value: [x, v] })),
    label: { show: true, position: "inside", formatter: "{b}", fontSize: 7.8, fontWeight: "bold", fontStyle: "italic", color: "#4a5b6c", fontFamily: FONT },
  });
  series.push({
    type: "scatter", xAxisIndex: pMan, yAxisIndex: pMan, symbolSize: 0, z: 6,
    data: [{ name: mainHit[0], value: [mainHit[1], mainHit[2]] }],
    label: { show: true, position: "inside", formatter: "{b}", fontSize: 9.5, fontWeight: "bold", fontStyle: "italic", color: "#111", fontFamily: FONT },
  });

  // ---- D: shared eQTLs
  const pD = panel(
    { left: 47.7, top: 633, width: 729.6, height: 271 },
    { type: "category", data: tissues, axisLine: { show: false }, axisTick: { show: true, alignWithLabel: true, length: 3, lineStyle: { color: "#555" } }, axisLabel: { interval: 0, rotate: 45, fontSize: 9.3, color: "#444", margin: 4, fontFamily: FONT } },
    { type: "value", min: -4.8, max: 110.3, offset: 2, splitLine: { show: false }, axisLine: { show: false }, axisTick: { show: true, customValues: [0, 25, 50, 75, 100], length: 3, lineStyle: { color: "#555" } }, axisLabel: { customValues: [0, 25, 50, 75, 100], fontSize: 9.8, color: "#333", margin: 3, fontFamily: FONT } },
  );
  series.push({
    type: "bar", xAxisIndex: pD, yAxisIndex: pD, barWidth: 14.9,
    data: sharedPct.map((v, i) => ({
      value: v,
      itemStyle: i === 0 ? { color: "#e74c3c", borderColor: "#c0392b", borderWidth: 1 } : i === 1 ? { color: "#34495e", borderColor: "#2c3e50", borderWidth: 1 } : { color: "#95a5a6", borderColor: "#7f8c8d", borderWidth: 1 },
      label: { color: i === 0 ? "#c0392b" : i === 1 ? "#34495e" : "#95a5a6" },
    })),
    label: { show: true, position: "top", distance: 9, rotate: 45, align: "center", verticalAlign: "middle", fontSize: 8.5, fontFamily: FONT, formatter: (p: any) => String(sharedCounts[p.dataIndex]) },
  });
  const pDLine = panel({ left: 45.7, top: 633, width: 733.3, height: 271 }, hiddenVal(0, 1), hiddenVal(-4.8, 110.3));
  series.push({ type: "line", xAxisIndex: pDLine, yAxisIndex: pDLine, data: [[0, sharedThreshold], [1, sharedThreshold]], symbol: "none", z: 6, lineStyle: { color: "#111", width: 1.5, type: [6, 3.5] } });

  // ---- free-standing labels and shapes
  const T = (text: string, x: number, y: number, size: number, extra: any = {}, style: any = {}) => ({
    type: "text", x, y, silent: true, ...extra,
    style: { text, fontSize: size, fontFamily: FONT, fill: "#222", align: "left", verticalAlign: "middle", ...style },
  });
  const L = (x1: number, y1: number, x2: number, y2: number, stroke = "#4a5a6a", lineWidth = .9) => ({ type: "line", silent: true, shape: { x1, y1, x2, y2 }, style: { stroke, lineWidth } });
  const P = (pts: number[][]) => ({ type: "polygon", silent: true, shape: { points: pts }, style: { fill: "#7f7f7f" } });
  const subRich = (fill: string, size: number) => ({
    n: { fontSize: size, fill, fontFamily: FONT },
    i: { fontSize: size, fill, fontFamily: FONT, fontStyle: "italic" },
    s: { fontSize: size * .62, fill, fontFamily: FONT, verticalAlign: "bottom", padding: [size * .45, 0, 0, 0] },
  });
  const elements: any[] = [
    T("A", 15, 10, 15, {}, { fontWeight: "bold", fill: "#000" }),
    T("B", 434, 9, 15, {}, { fontWeight: "bold", fill: "#000" }),
    T("C", 434, 338, 15, {}, { fontWeight: "bold", fill: "#000" }),
    T("D", 15, 614, 15, {}, { fontWeight: "bold", fill: "#000" }),
    T("FAM118A", 84, 10, 12, {}, { fontStyle: "italic", fill: "#111" }),
    T("Coverage", 73, 30, 9.3, {}, { align: "right" }),
    T("Exons", 73, 59, 9.3, {}, { align: "right" }),
    T("SNPs", 73, 74, 9.3, {}, { align: "right" }),
    T("Ref: Alt", 64, 129.5, 9.3, {}, { align: "right" }),
    T("marker", 66, 139, 9.3, {}, { align: "right" }),
    T("allele ratio", 66, 148, 9.3, {}, { align: "right" }),
    T("AI SNP genotype", 218, 201, 9.3, {}, { align: "center" }),
    T("479 genes with AI", 245, 226, 12, {}, { fill: "#111" }),
    L(145.5, 96.7, 159, 83.3), L(159, 83.3, 206.3, 96.7), L(233.3, 82, 267.3, 96.7), L(366.7, 82, 328.3, 96.7),
    P([[224, 212], [235.5, 212], [235.5, 231], [241, 231], [229.7, 243], [218.3, 231], [224, 231]]),
    { type: "bezierCurve", silent: true, shape: { x1: 148.3, y1: 276, cpx1: 154, cpy1: 266, cpx2: 165, cpy2: 262, x2: 175, y2: 263 }, style: { stroke: "#5dade2", lineWidth: 1, fill: "none" } },
    { type: "polyline", silent: true, shape: { points: [[171.5, 260.8], [175, 263], [171.5, 265]] }, style: { stroke: "#5dade2", lineWidth: 1, fill: "none" } },
    {
      type: "text", x: 62, y: 373, rotation: Math.PI / 2, silent: true,
      style: { text: "{n|log}{s|10}{n| FPKM + 1}", align: "center", verticalAlign: "middle", rich: subRich("#222", 12.5) },
    },
    T("Genotype", 157, 453, 12.5, {}, { align: "center" }),
    T("Ratio", 238, 376, 9.5, { rotation: Math.PI / 2 }, { align: "center" }),
    T("Status", 332, 453, 9.3, {}, { align: "center" }),
    P([[197.7, 471], [213, 485], [217, 481], [217, 497], [201, 497], [205, 493], [190.3, 478.7]]),
    P([[273, 471], [257.7, 485], [254, 481], [254, 497], [270, 497], [266, 493], [280.7, 478.7]]),
    { type: "rect", silent: true, shape: { x: 199.5, y: 504.5, width: 71.5, height: 20 }, style: { fill: "#fff", stroke: "#999", lineWidth: 1.3 } },
    T("174 eGenes", 235.2, 514.8, 12, {}, { align: "center", fill: "#111" }),
    {
      type: "text", x: 447, y: 160, rotation: Math.PI / 2, silent: true,
      style: { text: "{n|Observed –log}{s|10}{i| P}", align: "center", verticalAlign: "middle", rich: subRich("#111", 13) },
    },
    {
      type: "text", x: 601.7, y: 299, silent: true,
      style: { text: "{n|Expected –log}{s|10}{i| P}", align: "center", verticalAlign: "middle", rich: subRich("#111", 13) },
    },
    {
      type: "text", x: 447, y: 458, rotation: Math.PI / 2, silent: true,
      style: { text: "{n|–log}{s|10}{i| P}", align: "center", verticalAlign: "middle", rich: subRich("#222", 12) },
    },
    ...qqLegend.map(([lead, val, fill], i) => ({
      type: "text", x: 474.7, y: [9, 20, 31, 42.7, 54, 65, 76.7, 87.7][i], silent: true, z: 10,
      style: { text: `{n|${lead}λ}{s|GC}{n| = ${val}}`, align: "left", verticalAlign: "middle", rich: subRich(fill, 9.2) },
    })),
    { type: "rect", silent: true, shape: { x: 45.7, y: 633, width: 733.3, height: 271 }, style: { fill: "none", stroke: "#ccc", lineWidth: 1 } },
    T("Shared eQTLs", 414, 615, 11.5, {}, { align: "center", fill: "#111" }),
    {
      type: "text", x: 20.5, y: 747, rotation: Math.PI / 2, silent: true,
      style: { text: "Shared genes (%)", align: "center", verticalAlign: "middle", fontSize: 12.5, fontFamily: FONT, fill: "#222" },
    },
  ];

  return {
    animation: false,
    backgroundColor: "#fff",
    textStyle: { fontFamily: FONT },
    grid, xAxis, yAxis, series,
    graphic: { elements },
  };
}

export default function App() {
  const ref = useRef<HTMLDivElement>(null);
  useEffect(() => {
    const chart = echarts.init(ref.current!, undefined, { renderer: "svg" });
    chart.setOption(buildOption());
    return () => chart.dispose();
  }, []);
  return <div ref={ref} style={{ position: "absolute", left: 0, top: 0, width: 785, height: 1030 }} />;
}
